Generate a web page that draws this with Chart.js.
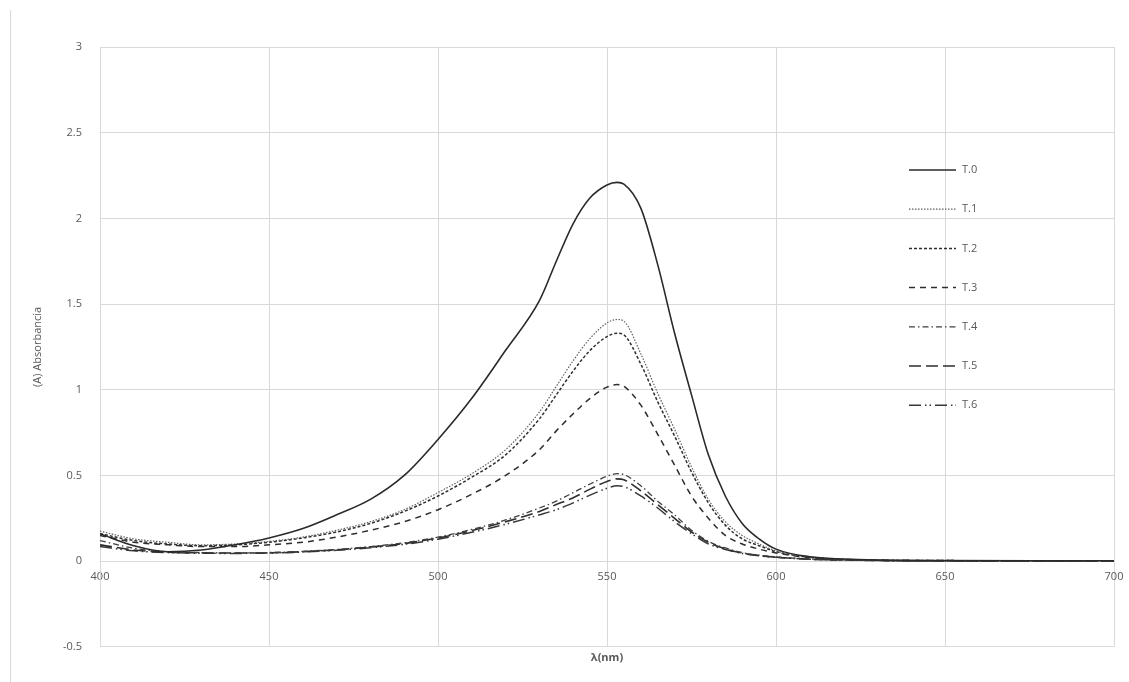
<!DOCTYPE html>
<html>
<head>
<meta charset="utf-8">
<script src="https://cdn.jsdelivr.net/npm/chart.js@4"></script>
<style>
  html, body { margin: 0; padding: 0; background: #fff; }
  #wrap { position: relative; width: 1129px; height: 682px; }
  #frame { position: absolute; left: 10px; top: 10px; width: 0; height: 672px; border-left: 1px solid #d9d9d9; }
</style>
</head>
<body>
<div id="wrap">
  <div id="frame"></div>
  <canvas id="chart" width="1129" height="682"></canvas>
</div>
<script>
// wavelength (nm)
const wavelengths = [400, 410, 420, 430, 440, 450, 460, 470, 480, 490, 500, 510, 520, 530, 535, 540, 545, 550, 553, 555, 560, 565, 570, 575, 580, 585, 590, 595, 600, 610, 620, 630, 650, 700];

const t0 = [0.16, 0.09, 0.055, 0.065, 0.095, 0.135, 0.19, 0.27, 0.36, 0.50, 0.71, 0.95, 1.23, 1.52, 1.75, 1.97, 2.12, 2.195, 2.21, 2.20, 2.06, 1.73, 1.33, 0.97, 0.62, 0.38, 0.22, 0.13, 0.07, 0.025, 0.012, 0.006, 0.003, 0.002];
const t1 = [0.175, 0.13, 0.11, 0.095, 0.10, 0.115, 0.14, 0.18, 0.23, 0.30, 0.40, 0.51, 0.65, 0.87, 1.02, 1.17, 1.30, 1.39, 1.41, 1.40, 1.21, 0.98, 0.77, 0.55, 0.36, 0.23, 0.15, 0.10, 0.06, 0.025, 0.01, 0.005, 0.003, 0.002];
const t2 = [0.16, 0.12, 0.10, 0.09, 0.095, 0.11, 0.135, 0.17, 0.22, 0.29, 0.38, 0.49, 0.62, 0.83, 0.97, 1.11, 1.23, 1.31, 1.33, 1.32, 1.15, 0.93, 0.73, 0.52, 0.34, 0.21, 0.13, 0.09, 0.055, 0.022, 0.01, 0.005, 0.003, 0.002];
const t3 = [0.15, 0.11, 0.095, 0.085, 0.085, 0.095, 0.11, 0.14, 0.18, 0.23, 0.30, 0.39, 0.50, 0.65, 0.76, 0.86, 0.95, 1.015, 1.03, 1.02, 0.91, 0.74, 0.56, 0.38, 0.25, 0.15, 0.10, 0.07, 0.048, 0.02, 0.01, 0.005, 0.003, 0.002];
const t4 = [0.12, 0.075, 0.055, 0.05, 0.048, 0.05, 0.057, 0.068, 0.085, 0.107, 0.14, 0.185, 0.24, 0.31, 0.35, 0.40, 0.45, 0.495, 0.51, 0.505, 0.44, 0.35, 0.27, 0.18, 0.115, 0.077, 0.05, 0.035, 0.025, 0.012, 0.006, 0.004, 0.002, 0.001];
const t5 = [0.095, 0.065, 0.052, 0.048, 0.047, 0.048, 0.055, 0.066, 0.082, 0.103, 0.135, 0.178, 0.23, 0.29, 0.33, 0.37, 0.42, 0.465, 0.48, 0.475, 0.41, 0.33, 0.25, 0.17, 0.11, 0.072, 0.047, 0.033, 0.023, 0.011, 0.006, 0.004, 0.002, 0.001];
const t6 = [0.085, 0.06, 0.05, 0.046, 0.045, 0.047, 0.053, 0.063, 0.078, 0.098, 0.128, 0.168, 0.215, 0.27, 0.30, 0.34, 0.385, 0.425, 0.44, 0.435, 0.38, 0.31, 0.23, 0.16, 0.10, 0.068, 0.045, 0.031, 0.022, 0.011, 0.006, 0.004, 0.002, 0.001];

const seriesNames = ['T.0', 'T.1', 'T.2', 'T.3', 'T.4', 'T.5', 'T.6'];
const seriesValues = [t0, t1, t2, t3, t4, t5, t6];
const dashes = [[], [1.5, 1.5], [3, 2], [6, 5], [6, 3, 1.5, 3], [12, 5], [12, 4, 1.5, 3, 1.5, 4]];
const widths = [1.6, 1.2, 1.5, 1.5, 1.3, 1.6, 1.5];
const colors = ['#2a2a2a', '#606060', '#2e2e2e', '#2e2e2e', '#404040', '#2e2e2e', '#383838'];

const textColor = '#595959';
const gridColor = '#d9d9d9';
const fontFamily = "'Open Sans', 'Noto Sans', sans-serif";

const datasets = seriesNames.map((name, i) => ({
  label: name,
  data: wavelengths.map((w, j) => ({ x: w, y: seriesValues[i][j] })),
  borderColor: colors[i],
  borderWidth: widths[i],
  borderDash: dashes[i],
  pointRadius: 0,
  fill: false,
  cubicInterpolationMode: 'monotone'
}));

// legend drawn inside the plot area, like the original
const insideLegend = {
  id: 'insideLegend',
  afterDraw(chart) {
    const ctx = chart.ctx;
    ctx.save();
    ctx.font = '11px ' + fontFamily;
    ctx.textBaseline = 'middle';
    chart.data.datasets.forEach((ds, i) => {
      const y = 170 + i * 39.2;
      ctx.strokeStyle = ds.borderColor;
      ctx.lineWidth = ds.borderWidth;
      ctx.setLineDash(ds.borderDash);
      ctx.beginPath();
      ctx.moveTo(909, y);
      ctx.lineTo(956, y);
      ctx.stroke();
      ctx.setLineDash([]);
      ctx.fillStyle = textColor;
      ctx.fillText(ds.label, 962, y);
    });
    ctx.restore();
  }
};

const noSidePad = (scale) => { scale.paddingLeft = 0; scale.paddingRight = 0; };

new Chart(document.getElementById('chart'), {
  type: 'line',
  data: { datasets },
  options: {
    responsive: false,
    animation: false,
    layout: { padding: { left: 10, top: 47, right: 15, bottom: 14 } },
    plugins: { legend: { display: false }, tooltip: { enabled: false } },
    scales: {
      x: {
        type: 'linear',
        position: { y: 0 },
        min: 400,
        max: 700,
        ticks: { stepSize: 50, color: textColor, font: { size: 11, family: fontFamily }, padding: 9, maxRotation: 0 },
        grid: { color: gridColor, drawTicks: false },
        border: { color: gridColor },
        afterFit: noSidePad
      },
      x2: {
        type: 'linear',
        position: 'bottom',
        min: 400,
        max: 700,
        ticks: { display: false },
        grid: { display: false, drawTicks: false },
        border: { display: false },
        title: { display: true, text: 'λ(nm)', color: textColor, font: { size: 11, weight: 'bold', family: fontFamily }, padding: { top: 4, bottom: 4 } },
        afterFit: noSidePad
      },
      y: {
        min: -0.5,
        max: 3,
        ticks: {
          stepSize: 0.5, color: textColor, font: { size: 11, family: fontFamily }, padding: 18,
          callback: (v) => String(v)
        },
        grid: { color: gridColor, drawTicks: false },
        border: { color: gridColor },
        title: { display: true, text: '(A) Absorbancia', color: textColor, font: { size: 11, family: fontFamily }, padding: { top: 21, bottom: 0 } },
        afterFit(scale) { scale.width = 90; }
      }
    }
  },
  plugins: [insideLegend]
});
</script>
</body>
</html>
